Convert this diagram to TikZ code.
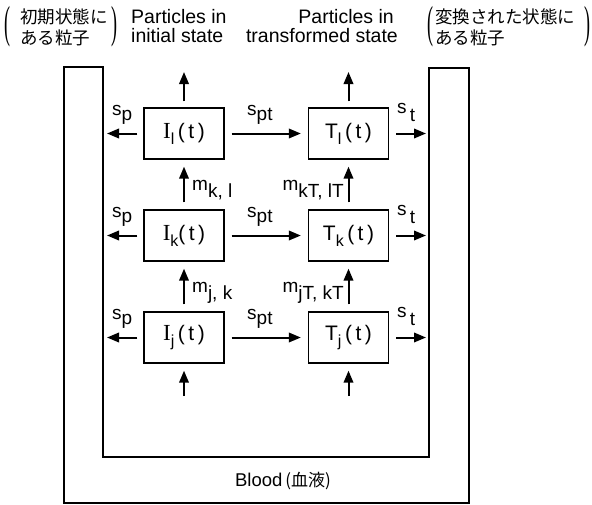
\documentclass[tikz,border=0pt]{standalone}
\usepackage{fontspec}
\setmainfont{Liberation Sans}
\newfontfamily\jp{Noto Sans CJK JP}
\newfontfamily\serifI{Liberation Serif}
\usetikzlibrary{arrows.meta}
\newcommand{\lowr}[1]{\raisebox{-5pt}{#1}}
\newcommand{\boxsub}[1]{\raisebox{-6pt}{\fontsize{16}{16}\selectfont #1}}
\newcommand{\bigI}{{\serifI\fontsize{23}{23}\selectfont I}}
\newcommand{\bigparen}[1]{\scalebox{1}[2.5]{\serifI\fontsize{18}{18}\selectfont #1}}
\begin{document}
\begin{tikzpicture}[x=1pt,y=-1pt,
  box/.style={draw, line width=1.3pt, minimum width=80pt, minimum height=51pt, inner sep=0pt,
              font=\fontsize{21}{21}\selectfont},
  arr/.style={line width=2pt, -{Triangle[length=12pt,width=9.5pt]}},
  lab/.style={inner sep=0pt, font=\fontsize{19}{19}\selectfont},
  hdr/.style={inner sep=0pt, font=\fontsize{19.5}{19.5}\selectfont},
  jph/.style={inner sep=0pt, font=\jp\fontsize{17.5}{17.5}\selectfont},
  wall/.style={line width=1.3pt}
]
\useasboundingbox (0,0) rectangle (592,504);

% blood compartment
\draw[wall] (64,67) -- (103,67) -- (103,457) -- (429,457) -- (429,68) -- (469,68) -- (469,503) -- (64,503) -- cycle;
\node[inner sep=0pt, anchor=base, font=\fontsize{18.5}{18.5}\selectfont] (blood) at (283,486) {Blood\,{\jp\fontsize{17}{17}\selectfont(血液)}};

% header
\node[inner sep=0pt] (pl1) at (7.5,27) {\bigparen{(}};
\node[jph, anchor=base west] (jl1) at (20,23) {初期状態に};
\node[jph, anchor=base west] (jl2) at (20,44) {ある粒子};
\node[inner sep=0pt] (pl2) at (114.5,27) {\bigparen{)}};
\node[hdr, anchor=base west] (h1) at (131,23) {Particles in};
\node[hdr, anchor=base west] (h2) at (131,42.5) {initial state};
\node[hdr, anchor=base east] (h3) at (394,23) {Particles in};
\node[hdr, anchor=base east] (h4) at (398,42.5) {transformed state};
\node[inner sep=0pt] (pr1) at (430.5,27) {\bigparen{(}};
\node[jph, anchor=base west] (jr1) at (435,23) {変換された状態に};
\node[jph, anchor=base west] (jr2) at (435,44) {ある粒子};
\node[inner sep=0pt] (pr2) at (587.5,27) {\bigparen{)}};

% boxes
\node[box] (Il) at (184,133.5) {\bigI\boxsub{l}\,(\,t\,)};
\node[box] (Tl) at (348.5,133.5) {T\boxsub{l}\,(\,t\,)};
\node[box] (Ik) at (184,235.5) {\bigI\boxsub{k}(\,t\,)};
\node[box] (Tk) at (348.5,235.5) {T\boxsub{k}\,(\,t\,)};
\node[box] (Ij) at (184,337.5) {\bigI\boxsub{j}\,(\,t\,)};
\node[box] (Tj) at (348.5,337.5) {T\boxsub{j}\,(\,t\,)};

% free ends
\coordinate (IlUp) at (184,72);
\coordinate (TlUp) at (348.5,72);
\coordinate (IjIn) at (184,396);
\coordinate (TjIn) at (348.5,396);
\foreach \r/\y in {l/133.5,k/235.5,j/337.5}{
  \coordinate (SP\r) at (107,\y);
  \coordinate (ST\r) at (426,\y);
}

% arrows
\draw[arr, shorten <=6pt] (Il) -- (IlUp);
\draw[arr, shorten <=6pt] (Tl) -- (TlUp);
\draw[arr, shorten <=7pt, shorten >=7pt] (Ik) -- (Il);
\draw[arr, shorten <=7pt, shorten >=7pt] (Tk) -- (Tl);
\draw[arr, shorten <=7pt, shorten >=7pt] (Ij) -- (Ik);
\draw[arr, shorten <=7pt, shorten >=7pt] (Tj) -- (Tk);
\draw[arr, shorten >=7pt] (IjIn) -- (Ij);
\draw[arr, shorten >=7pt] (TjIn) -- (Tj);
\foreach \r in {l,k,j}{
  \draw[arr, shorten <=6pt] (I\r) -- (SP\r);
  \draw[arr, shorten <=7pt, shorten >=7pt] (I\r) -- (T\r);
  \draw[arr, shorten <=7pt] (T\r) -- (ST\r);
}

% rate labels
\foreach \r/\y in {l/115,k/217,j/319}{
  \node[lab, anchor=base west] (sp\r) at (112,\y) {s\lowr{p}};
  \node[lab, anchor=base west] (spt\r) at (247,\y) {s\lowr{pt}};
  \node[lab, anchor=base west] (st\r) at (397,\y-2) {s\,\raisebox{-8pt}{t}};
}
\node[lab, anchor=base west] (mkl) at (192,190) {m\raisebox{-7pt}{k, l}};
\node[lab, anchor=base west] (mjk) at (192,292) {m\raisebox{-7pt}{j, k}};
\node[lab, anchor=base east] (mkTlT) at (344,190) {m\raisebox{-7pt}{kT, lT}};
\node[lab, anchor=base east] (mjTkT) at (344,292) {m\raisebox{-7pt}{jT, kT}};
\end{tikzpicture}
\end{document}
